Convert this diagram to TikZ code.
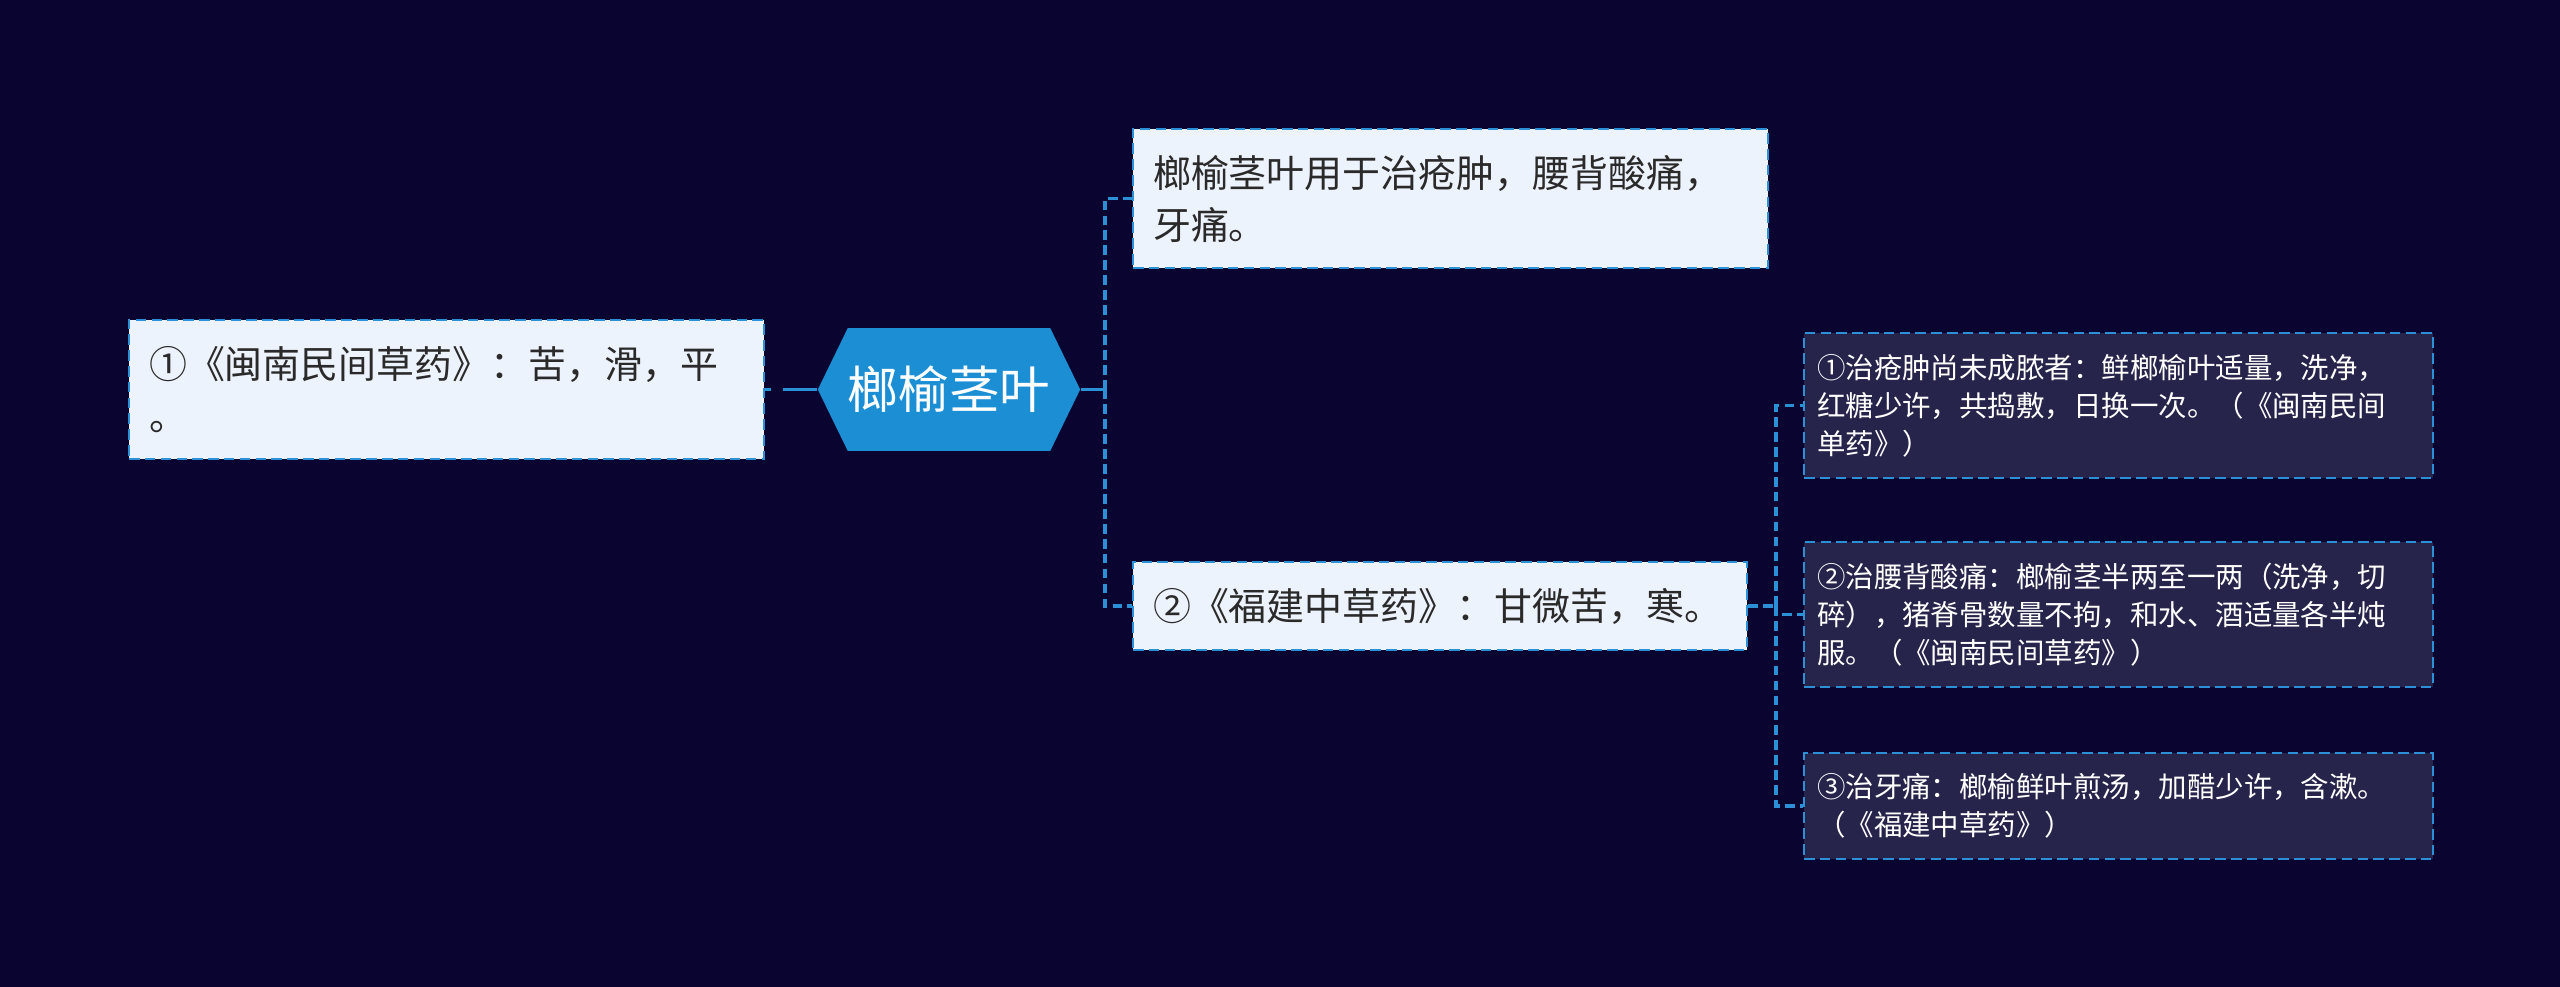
\documentclass[tikz,border=0pt]{standalone}
\usepackage{fontspec}
\setmainfont{Noto Sans CJK SC}
\usepackage{xcolor}
\usepackage{tikz}
\usetikzlibrary{shapes.symbols,positioning}
\definecolor{bgnavy}{HTML}{0A0530}
\definecolor{edgeblue}{HTML}{2C90D6}
\definecolor{rootblue}{HTML}{1B8ED4}
\definecolor{lightfill}{HTML}{EDF3FD}
\definecolor{darkfill}{HTML}{27244B}
\definecolor{inkgray}{HTML}{2A2A2A}

\begin{document}
\begin{tikzpicture}[x=0.02cm,y=-0.02cm,
  lightbox/.style={draw=edgeblue,fill=lightfill,line width=1.1pt,dash pattern=on 6pt off 3pt,
    text=inkgray,font=\fontsize{21.6}{29.6}\selectfont,align=left,inner xsep=0.4cm,inner ysep=0pt},
  darkbox/.style={draw=edgeblue,fill=darkfill,line width=1.1pt,dash pattern=on 6pt off 3pt,
    text=white,font=\fontsize{16.2}{21.6}\selectfont,align=left,inner xsep=0.26cm,inner ysep=0pt,
    text width=12.06cm,minimum height=2.9cm},
  wire/.style={draw=edgeblue,line width=2.1pt},
  dwire/.style={wire,dash pattern=on 5.5pt off 3pt}]
\fill[bgnavy] (0,0) rectangle (2560,987);
\useasboundingbox (0,0) rectangle (2560,987);

% central topic and first level
\node[signal,signal to=west and east,signal pointer angle=128,fill=rootblue,text=white,
  minimum width=5.16cm,minimum height=2.46cm,inner sep=0pt,
  font=\fontsize{28.8}{34}\selectfont] (root) at (949,389.5) {榔榆茎叶};
\node[lightbox,text width=11.9cm,minimum height=2.78cm] (minnan) at (446.5,389.5)
  {①《闽南民间草药》：苦，滑，平\\。};
\node[lightbox,text width=11.9cm,minimum height=2.78cm] (usage) at (1450.5,198.5)
  {榔榆茎叶用于治疮肿，腰背酸痛，\\牙痛。};
\node[lightbox,text width=11.48cm,minimum height=1.76cm] (fujian) at (1440,606)
  {②《福建中草药》：甘微苦，寒。};

% prescriptions
\node[darkbox] (rx1) at (2118.5,405.5)
  {①治疮肿尚未成脓者：鲜榔榆叶适量，洗净，\\红糖少许，共捣敷，日换一次。（《闽南民间\\单药》）};
\node[darkbox] (rx2) at (2118.5,614.5)
  {②治腰背酸痛：榔榆茎半两至一两（洗净，切\\碎），猪脊骨数量不拘，和水、酒适量各半炖\\服。（《闽南民间草药》）};
\node[darkbox,minimum height=2.12cm] (rx3) at (2118.5,806)
  {③治牙痛：榔榆鲜叶煎汤，加醋少许，含漱。\\（《福建中草药》）};

% connectors
\coordinate (hub1) at (1105,389.5);
\coordinate (hub2) at (1776,606);
\draw[wire,dash pattern=on 1.2mm off 2.4mm on 12mm off 0mm] (minnan.east) -- (root.west);
\draw[wire] (root.east) -- (hub1);
\draw[dwire] (hub1) |- (usage.west);
\draw[dwire] (hub1) |- (fujian.west);
\draw[dwire] (fujian.east) -- (hub2);
\draw[dwire] (hub2) |- (rx1.west);
\draw[dwire] (hub2) |- (rx2.west);
\draw[dwire] (hub2) |- (rx3.west);
\end{tikzpicture}
\end{document}
